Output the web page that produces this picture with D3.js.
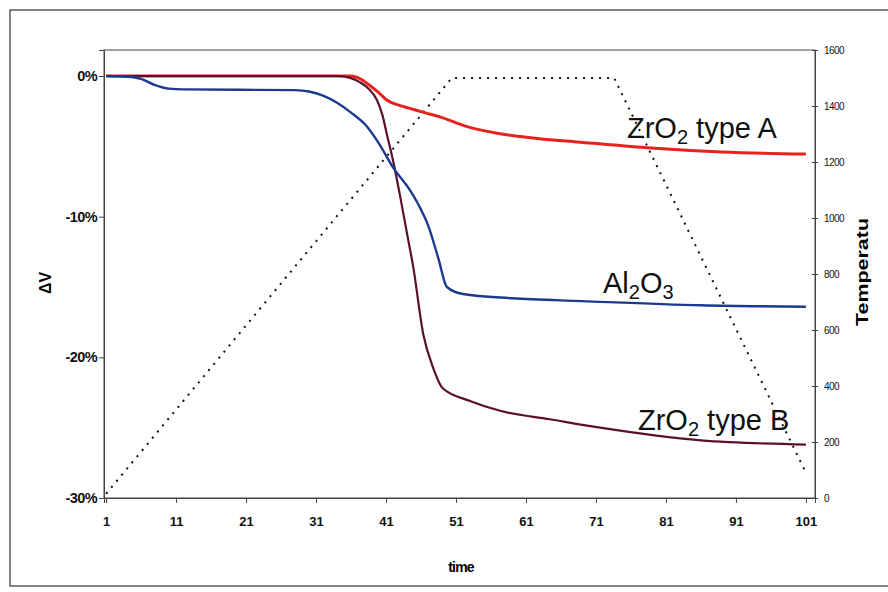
<!DOCTYPE html>
<html>
<head>
<meta charset="utf-8">
<script src="https://cdn.jsdelivr.net/npm/d3@7"></script>
<style>
  body { margin: 0; background: #fff; }
  svg { display: block; font-family: Arial, "Liberation Sans", sans-serif; }
  .tickL text, .tickB text { font-weight: bold; }
</style>
</head>
<body>
<svg id="chart" width="888" height="592"></svg>
<script>
'use strict'
// values: [time, dV %]
const zrO2A = [[1,0],[36,0],[37.5,-0.25],[38.5,-0.6],[40,-1.2],[41.1,-1.7],[43,-2.1],[44.4,-2.3],[46.5,-2.6],
  [48.7,-2.9],[52.6,-3.6],[57.3,-4.1],[62,-4.4],[68.7,-4.7],[78.3,-5.1],[89,-5.4],[101,-5.55]]
const al2O3 = [[1,0],[4,-0.05],[6,-0.2],[8,-0.65],[10,-0.9],[12,-0.95],[28,-1.0],[30,-1.1],[32,-1.4],[34,-1.9],
  [36,-2.6],[38.3,-3.6],[40,-4.8],[42,-6.5],[44.4,-8.1],[46,-9.5],[47,-10.6],[48.5,-13],[49.7,-15.0],
  [52,-15.5],[59,-15.8],[69,-16.0],[86,-16.3],[101,-16.4]]
const zrO2B = [[1,0],[34,0],[36,-0.15],[37.3,-0.45],[38.5,-0.9],[39.7,-1.7],[40.5,-2.8],[41.1,-4.1],[42,-6.0],
  [43,-8.5],[44,-11.2],[44.9,-13.6],[46.3,-18.3],[47.7,-20.7],[49.1,-22.2],[53,-23.1],[57.3,-23.8],
  [64.4,-24.4],[71.6,-25.0],[86,-25.9],[101,-26.2]]
// temperature programme: [time, degC]
const temperature = [[1,15],[50.4,1500],[73.6,1500],[101,90]]

const xTicks = [1,11,21,31,41,51,61,71,81,91,101]
const yTicks = [0,-10,-20,-30]
const tTicks = [0,200,400,600,800,1000,1200,1400,1600]

const svg = d3.select('#chart')
const pLeft = 104, pRight = 815, pTop = 50, pBottom = 498

const x = d3.scaleLinear().domain([0.7, 102.3]).range([pLeft, pRight])
const y = d3.scaleLinear().domain([-30, 1.85]).range([pBottom, pTop])
const yT = d3.scaleLinear().domain([0, 1600]).range([pBottom, pTop])

// outer frame
svg.append('rect').attr('x', 10).attr('y', 10).attr('width', 900).attr('height', 576)
  .attr('fill', 'none').attr('stroke', '#333').attr('stroke-width', 1.2)

// plot box
svg.append('rect').attr('x', pLeft).attr('y', pTop).attr('width', pRight - pLeft).attr('height', pBottom - pTop)
  .attr('fill', 'none').attr('stroke', '#444').attr('stroke-width', 1)

svg.append('g').attr('class', 'tickL')
  .attr('transform', 'translate(' + pLeft + ',0)')
  .call(d3.axisLeft(y).tickValues(yTicks).tickSize(5).tickPadding(2).tickFormat(d => d + '%'))
  .call(g => g.selectAll('text').attr('font-size', 14.5).attr('letter-spacing', -0.6).attr('fill', '#111'))

svg.append('g').attr('class', 'tickB')
  .attr('transform', 'translate(0,' + pBottom + ')')
  .call(d3.axisBottom(x).tickValues(xTicks).tickSize(5).tickPadding(14))
  .call(g => g.selectAll('text').attr('font-size', 13).attr('fill', '#111'))

svg.append('g')
  .attr('transform', 'translate(' + pRight + ',0)')
  .call(d3.axisRight(yT).tickValues(tTicks).tickSize(3).tickPadding(6).tickFormat(d3.format('d')))
  .call(g => g.selectAll('.tick line').attr('x1', -3))
  .call(g => g.selectAll('text').attr('font-size', 10).attr('letter-spacing', -0.6)
    .attr('font-family', '"Liberation Sans Narrow", Arial, sans-serif').attr('fill', '#111'))

svg.selectAll('.domain').attr('stroke', '#444')
svg.selectAll('.tick line').attr('stroke', '#444')

const line = d3.line().x(d => x(d[0])).y(d => y(d[1])).curve(d3.curveMonotoneX)
const tLine = d3.line().x(d => x(d[0])).y(d => yT(d[1]))

svg.append('path').datum(temperature).attr('d', tLine)
  .attr('fill', 'none').attr('stroke', '#111').attr('stroke-width', 2).attr('stroke-dasharray', '2,6')

svg.append('path').datum(zrO2A).attr('d', line)
  .attr('fill', 'none').attr('stroke', '#e8221c').attr('stroke-width', 3)
svg.append('path').datum(zrO2B).attr('d', line)
  .attr('fill', 'none').attr('stroke', '#5c1030').attr('stroke-width', 2.2)
svg.append('path').datum(al2O3).attr('d', line)
  .attr('fill', 'none').attr('stroke', '#1d3a8e').attr('stroke-width', 2.4)

// series labels
function label(px, py, parts) {
  const t = svg.append('text').attr('x', px).attr('y', py).attr('font-size', 29).attr('fill', '#111')
  parts.forEach(p => {
    if (p.sub) t.append('tspan').attr('font-size', 20).attr('dy', 6).text(p.s)
    else t.append('tspan').attr('dy', p.after ? -6 : 0).text(p.s)
  })
}
label(627, 138, [{s: 'ZrO'}, {s: '2', sub: true}, {s: ' type A', after: true}])
label(603, 293, [{s: 'Al'}, {s: '2', sub: true}, {s: 'O', after: true}, {s: '3', sub: true}])
label(638, 430, [{s: 'ZrO'}, {s: '2', sub: true}, {s: ' type B', after: true}])

// axis titles
svg.append('text').attr('transform', 'translate(51,283) rotate(-90)').attr('text-anchor', 'middle')
  .attr('font-size', 16).attr('font-weight', 'bold').text('ΔV')
svg.append('text').attr('transform', 'translate(868,272) rotate(-90)').attr('text-anchor', 'middle')
  .attr('font-size', 17).attr('font-weight', 'bold')
  .attr('textLength', 108).attr('lengthAdjust', 'spacingAndGlyphs').text('Temperatu')
svg.append('text').attr('x', 461).attr('y', 572).attr('text-anchor', 'middle')
  .attr('font-size', 14).attr('font-weight', 'bold').attr('letter-spacing', -0.8).text('time')
</script>
</body>
</html>
